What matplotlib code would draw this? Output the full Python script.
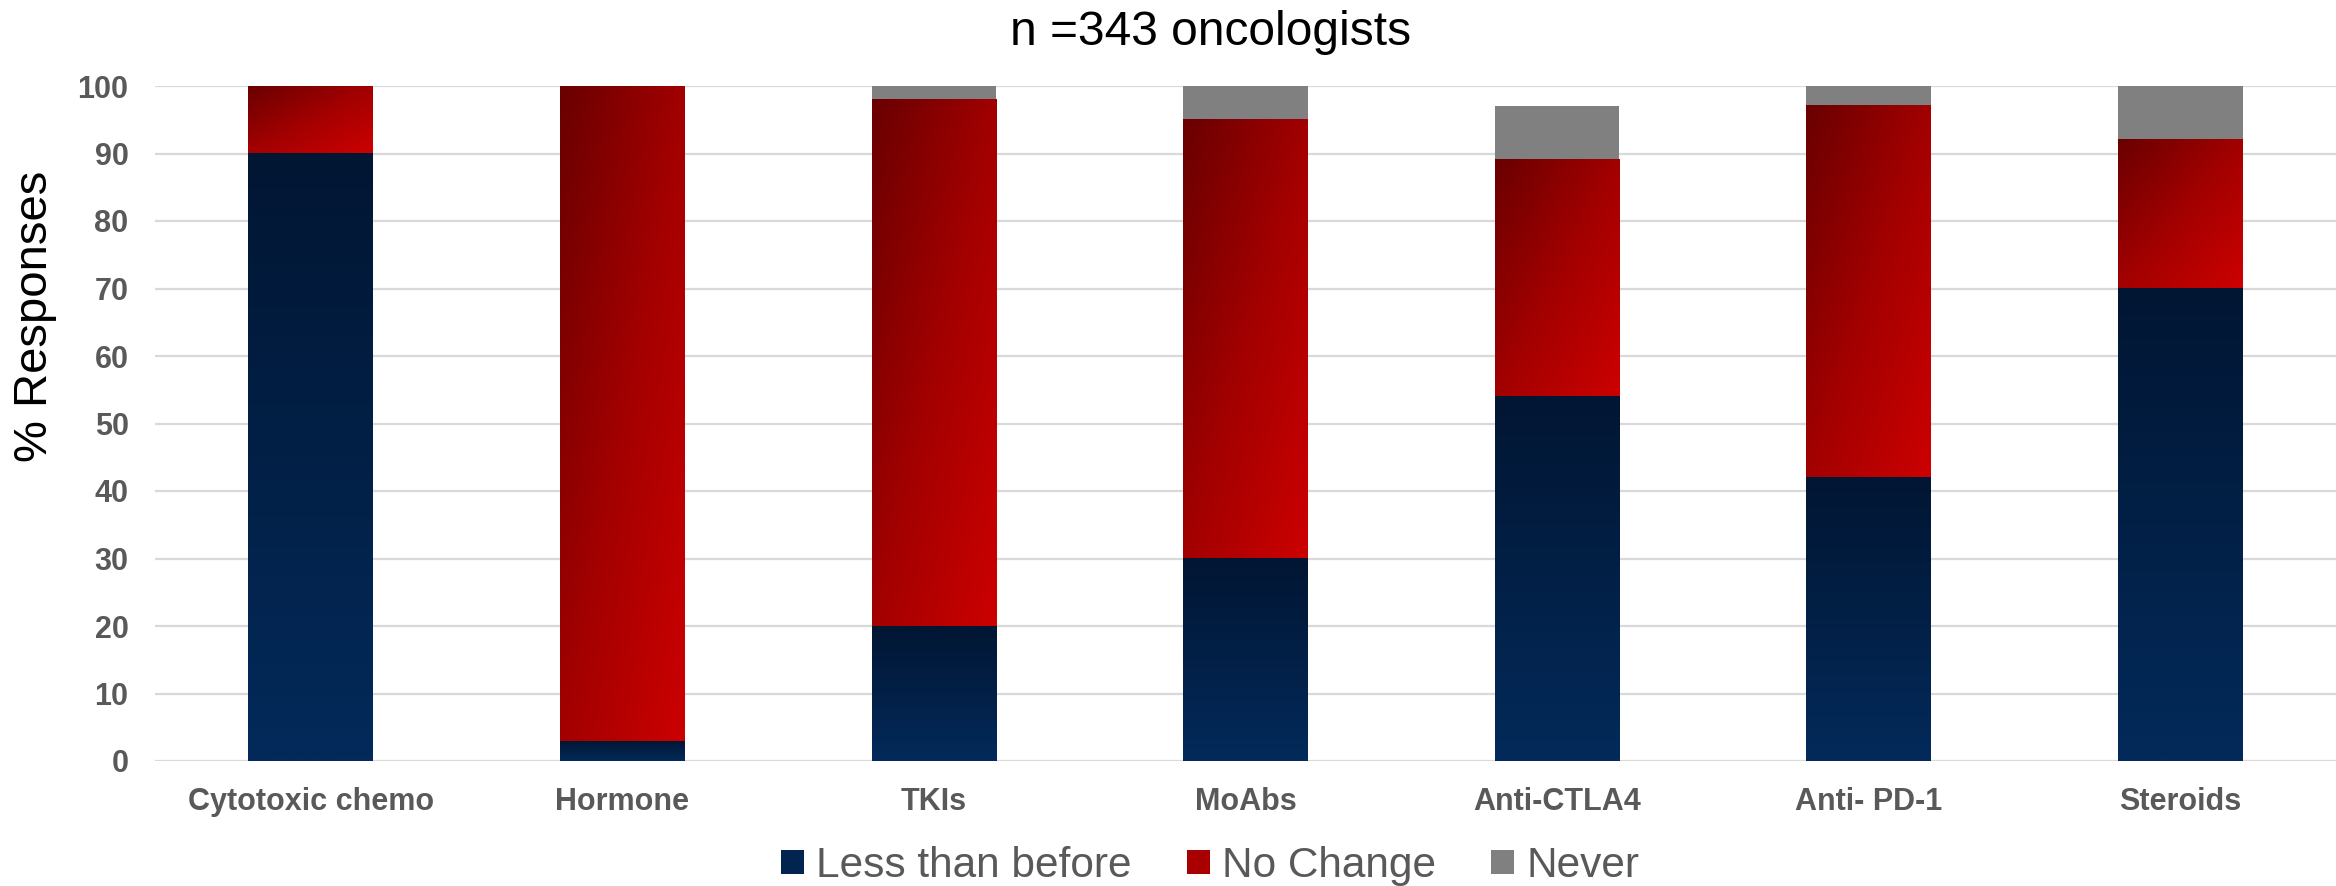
import matplotlib
matplotlib.use('Agg')
import matplotlib.pyplot as plt
import numpy as np
from matplotlib.colors import LinearSegmentedColormap
from matplotlib.patches import Patch

categories = ['Cytotoxic chemo', 'Hormone', 'TKIs', 'MoAbs', 'Anti-CTLA4', 'Anti- PD-1', 'Steroids']
less_than_before = [90, 3, 20, 30, 54, 42, 70]
no_change = [10, 97, 78, 65, 35, 55, 22]
never = [0, 0, 2, 5, 8, 3, 8]
series_names = ['Less than before', 'No Change', 'Never']
yticks = list(range(0, 101, 10))

font = ['Liberation Sans', 'DejaVu Sans']

navy_cmap = LinearSegmentedColormap.from_list('navy', ['#011633', '#032a5a'])
red_cmap = LinearSegmentedColormap.from_list('red', ['#6a0000', '#a20000', '#cc0000'])
gray = '#808080'


def fill_gradient(ax, bars, cmap, diagonal):
    # paint each bar segment with a gradient image, like the Office fill
    n = 64
    u = np.linspace(0, 1, n)
    if diagonal:
        grad = (u[:, None] + u[None, :]) / 2
    else:
        grad = np.tile(u[:, None], (1, n))
    for b in bars:
        x, y = b.get_xy()
        w, h = b.get_width(), b.get_height()
        if h <= 0:
            continue
        ax.imshow(grad, cmap=cmap, extent=[x, x + w, y, y + h], origin='upper',
                  aspect='auto', zorder=2, interpolation='bilinear')
        b.set_facecolor('none')


W, H = 2336, 886
fig = plt.figure(figsize=(W / 100, H / 100), dpi=100)
left, right, top, bottom = 155, 2336, 86, 761
ax = fig.add_axes([left / W, 1 - bottom / H, (right - left) / W, (bottom - top) / H])

x = np.arange(len(categories))
w = 0.4
b1 = ax.bar(x, less_than_before, w, linewidth=0, zorder=2)
bottom2 = np.array(less_than_before)
b2 = ax.bar(x, no_change, w, bottom=bottom2, linewidth=0, zorder=2)
bottom3 = bottom2 + np.array(no_change)
b3 = ax.bar(x, never, w, bottom=bottom3, color=gray, linewidth=0, zorder=2)

fill_gradient(ax, b1, navy_cmap, False)
fill_gradient(ax, b2, red_cmap, True)

ax.set_xlim(-0.5, len(categories) - 0.5)
ax.set_ylim(0, 100)
ax.set_yticks(yticks)
ax.yaxis.grid(True, color='#d9d9d9', linewidth=1.6, zorder=0)
ax.set_axisbelow(True)
for s in ax.spines.values():
    s.set_visible(False)
ax.tick_params(length=0)
ax.tick_params(axis='y', pad=19)
ax.tick_params(axis='x', pad=19)
ax.set_xticks(x)
ax.set_xticklabels(categories)
for lab in ax.get_xticklabels() + ax.get_yticklabels():
    lab.set_family(font)
    lab.set_fontweight('bold')
    lab.set_fontsize(22)
    lab.set_color('#595959')

fig.text(1211 / W, 1 - 45 / H, 'n =343 oncologists', ha='center', va='baseline',
         fontsize=34.5, family=font, color='black')
fig.text(35 / W, 1 - 316 / H, '% Responses', rotation=90, ha='center', va='center',
         fontsize=34, family=font, color='black')

handles = [Patch(facecolor='#022550'), Patch(facecolor='#a80000'), Patch(facecolor=gray)]
leg = fig.legend(handles, series_names, loc='center', bbox_to_anchor=(1210 / W, 1 - 866 / H),
                 ncol=3, frameon=False, handlelength=0.55, handleheight=0.5,
                 handletextpad=0.28, columnspacing=1.3, borderpad=0, borderaxespad=0,
                 prop={'family': font, 'size': 30.5})
for t in leg.get_texts():
    t.set_color('#595959')

fig.savefig('out.png', dpi=100)
